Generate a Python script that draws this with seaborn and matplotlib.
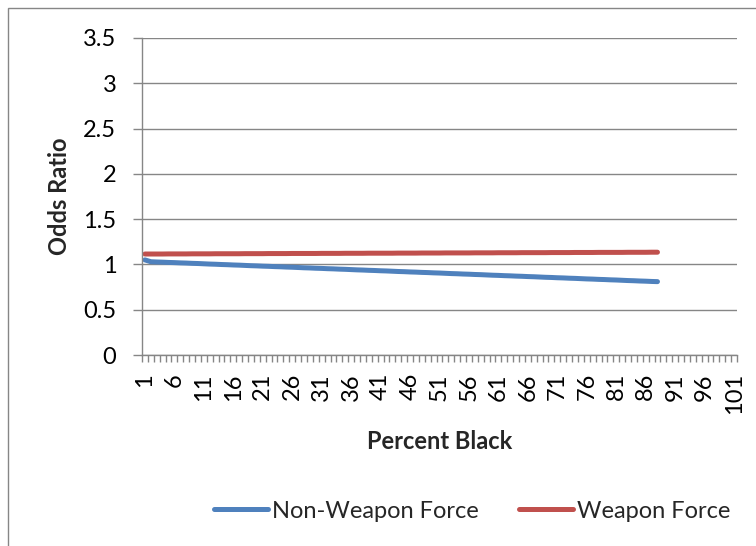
import matplotlib
matplotlib.use("Agg")
import matplotlib.pyplot as plt
from matplotlib.patches import Rectangle
from matplotlib.lines import Line2D
from matplotlib.ticker import FixedLocator, NullFormatter
import numpy as np
import pandas as pd
import seaborn as sns

# Percent black in the area (categories shown on the axis: 1..101)
categories = list(range(1, 102))
tick_labels = [str(c) for c in range(1, 102, 5)]

# Observed range of the predictor
percent_black = list(range(1, 89))

non_weapon_force = [
    1.050, 1.030, 1.027, 1.025, 1.022, 1.020, 1.017, 1.015, 1.012, 1.010,
    1.007, 1.004, 1.002, 0.999, 0.997, 0.994, 0.992, 0.989, 0.986, 0.984,
    0.981, 0.979, 0.976, 0.974, 0.971, 0.969, 0.966, 0.963, 0.961, 0.958,
    0.956, 0.953, 0.951, 0.948, 0.946, 0.943, 0.940, 0.938, 0.935, 0.933,
    0.930, 0.928, 0.925, 0.922, 0.920, 0.917, 0.915, 0.912, 0.910, 0.907,
    0.905, 0.902, 0.899, 0.897, 0.894, 0.892, 0.889, 0.887, 0.884, 0.881,
    0.879, 0.876, 0.874, 0.871, 0.869, 0.866, 0.864, 0.861, 0.858, 0.856,
    0.853, 0.851, 0.848, 0.846, 0.843, 0.840, 0.838, 0.835, 0.833, 0.830,
    0.828, 0.825, 0.822, 0.820, 0.817, 0.815, 0.812, 0.810,
]

weapon_force = [
    1.115, 1.115, 1.115, 1.115, 1.116, 1.116, 1.116, 1.116, 1.117, 1.117,
    1.117, 1.117, 1.118, 1.118, 1.118, 1.118, 1.118, 1.119, 1.119, 1.119,
    1.119, 1.120, 1.120, 1.120, 1.120, 1.121, 1.121, 1.121, 1.121, 1.121,
    1.122, 1.122, 1.122, 1.122, 1.123, 1.123, 1.123, 1.123, 1.124, 1.124,
    1.124, 1.124, 1.124, 1.125, 1.125, 1.125, 1.125, 1.126, 1.126, 1.126,
    1.126, 1.127, 1.127, 1.127, 1.127, 1.127, 1.128, 1.128, 1.128, 1.128,
    1.129, 1.129, 1.129, 1.129, 1.130, 1.130, 1.130, 1.130, 1.130, 1.131,
    1.131, 1.131, 1.131, 1.132, 1.132, 1.132, 1.132, 1.133, 1.133, 1.133,
    1.133, 1.133, 1.134, 1.134, 1.134, 1.134, 1.135, 1.135,
]

series_names = ["Non-Weapon Force", "Weapon Force"]
series_colors = ["#4F81BD", "#C0504D"]

df = pd.concat([
    pd.DataFrame({"Percent Black": percent_black, "Odds Ratio": non_weapon_force,
                  "Series": series_names[0]}),
    pd.DataFrame({"Percent Black": percent_black, "Odds Ratio": weapon_force,
                  "Series": series_names[1]}),
])

sns.set_style("white")
plt.rcParams["font.family"] = ["Lato", "DejaVu Sans"]

W, H = 756, 546
FS = 17
fig = plt.figure(figsize=(W / 100, H / 100), dpi=100)
ax = fig.add_axes([142 / W, 1 - 355 / H, (737 - 142) / W, (355 - 38) / H])

palette = dict(zip(series_names, series_colors))
sns.lineplot(data=df, x="Percent Black", y="Odds Ratio", hue="Series",
             palette=palette, linewidth=3.6, ax=ax, legend=False,
             solid_capstyle="round", solid_joinstyle="round")

grid_color = "#868686"
ax.set_ylim(0, 3.5)
ax.set_yticks(np.arange(0, 3.51, 0.5))
ax.set_yticklabels(["0", "0.5", "1", "1.5", "2", "2.5", "3", "3.5"])
ax.yaxis.grid(True, color=grid_color, linewidth=1.0)
ax.set_axisbelow(True)

ax.set_xlim(categories[0] - 0.5, categories[-1] + 0.5)
ax.set_xticks(list(range(1, 102, 5)))
ax.set_xticklabels(tick_labels, rotation=90)
ax.xaxis.set_minor_locator(FixedLocator(np.arange(categories[0] - 0.5,
                                                  categories[-1] + 0.6, 1)))
ax.xaxis.set_minor_formatter(NullFormatter())
ax.tick_params(axis="x", which="major", length=0, pad=13, labelsize=FS,
               labelcolor="black")
ax.tick_params(axis="x", which="minor", length=5, width=1, color=grid_color,
               direction="out", bottom=True)
ax.tick_params(axis="y", which="major", length=6.5, width=1, color=grid_color,
               direction="out", left=True, pad=12, labelsize=FS,
               labelcolor="black")

for side in ["top", "right"]:
    ax.spines[side].set_visible(False)
for side in ["left", "bottom"]:
    ax.spines[side].set_color(grid_color)
    ax.spines[side].set_linewidth(1.0)

ax.set_xlabel("Percent Black", fontsize=FS, fontweight="bold", labelpad=11)
ax.set_ylabel("Odds Ratio", fontsize=FS, fontweight="bold", labelpad=9)

handles = [Line2D([0], [0], color=c, linewidth=3.6, solid_capstyle="round")
           for c in series_colors]
fig.legend(handles, series_names, loc="center",
           bbox_to_anchor=(472 / W, 1 - 511 / H),
           ncol=2, frameon=False, fontsize=FS, handlelength=2.3,
           handletextpad=0.17, columnspacing=1.7)

# Chart area border
fig.patches.append(Rectangle((8 / W, -0.1), 1.2, 1 - 8 / H + 0.1,
                             transform=fig.transFigure, fill=False,
                             edgecolor=grid_color, linewidth=1.0))

fig.savefig("out.png", dpi=100)
